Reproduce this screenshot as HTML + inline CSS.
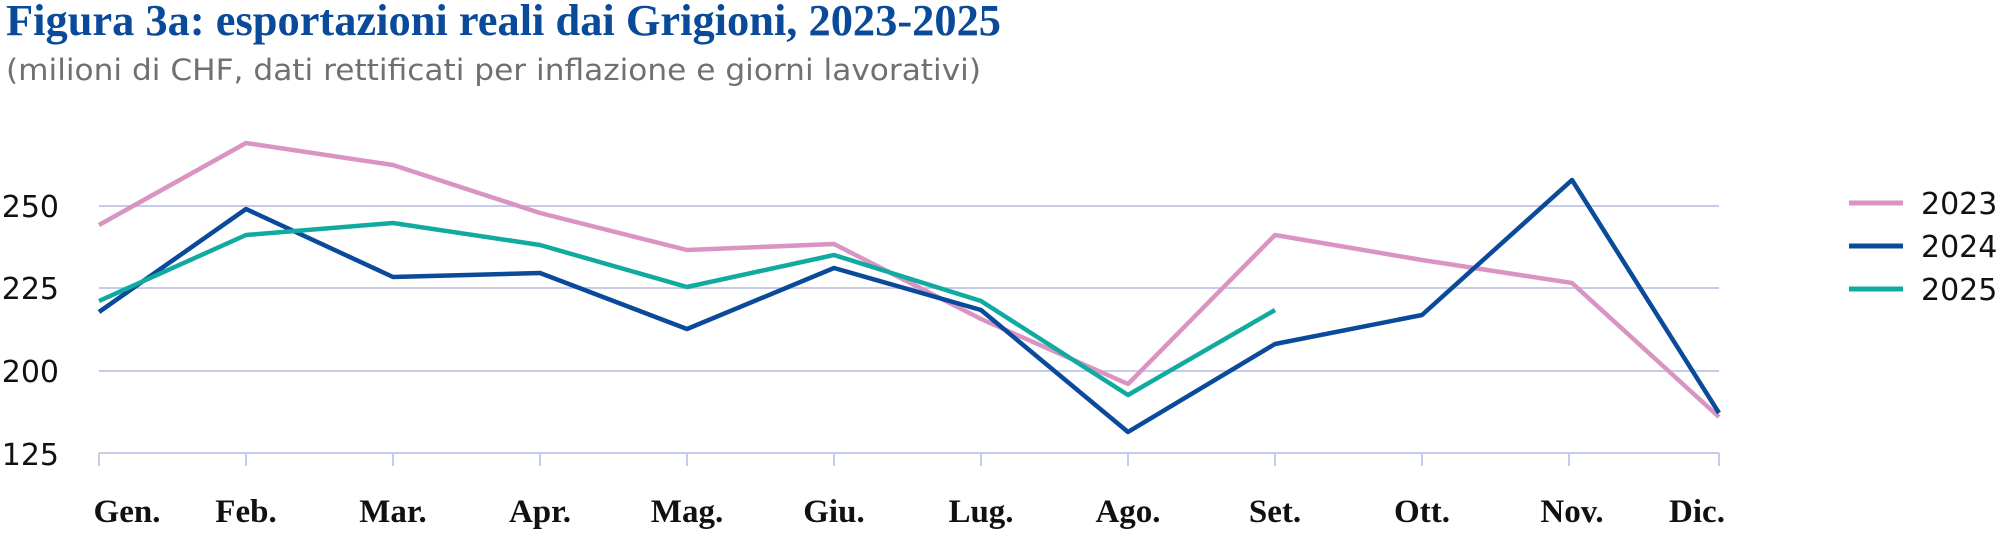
<!DOCTYPE html>
<html><head><meta charset="utf-8"><style>body{margin:0;background:#fff}svg{display:block}</style></head><body>
<svg width="2000" height="533" xmlns="http://www.w3.org/2000/svg">
<text x="6" y="35" font-family="Liberation Serif, serif" font-weight="bold" font-size="44" fill="#0a4a9a" textLength="995" lengthAdjust="spacingAndGlyphs">Figura 3a: esportazioni reali dai Grigioni, 2023-2025</text>
<text x="6" y="80" font-family="DejaVu Sans, sans-serif" font-size="29" fill="#707070" textLength="975" lengthAdjust="spacingAndGlyphs">(milioni di CHF, dati rettificati per inflazione e giorni lavorativi)</text>
<g stroke="#c5cbe8" stroke-width="2" fill="none">
<line x1="99" y1="206" x2="1719" y2="206"/><line x1="99" y1="288" x2="1719" y2="288"/><line x1="99" y1="371" x2="1719" y2="371"/><line x1="99" y1="453" x2="1719" y2="453"/>
<path d="M99 453v13M246 453v13M393 453v13M540 453v13M687 453v13M834 453v13M981 453v13M1128 453v13M1275 453v13M1422 453v13M1569 453v13M1719 453v13"/>
</g>
<g font-family="DejaVu Sans, sans-serif" font-size="30" fill="#111" text-anchor="end">
<text x="59" y="217">250</text><text x="59" y="299">225</text><text x="59" y="382">200</text><text x="59" y="465">125</text>
</g>
<g font-family="Liberation Serif, serif" font-weight="bold" font-size="33" fill="#111" text-anchor="middle">
<text x="127" y="522">Gen.</text><text x="246" y="522">Feb.</text><text x="393" y="522">Mar.</text><text x="540" y="522">Apr.</text><text x="687" y="522">Mag.</text><text x="834" y="522">Giu.</text><text x="981" y="522">Lug.</text><text x="1128" y="522">Ago.</text><text x="1275" y="522">Set.</text><text x="1422" y="522">Ott.</text><text x="1572" y="522">Nov.</text><text x="1697" y="522">Dic.</text>
</g>
<g fill="none" stroke-width="4.5" stroke-linejoin="round">
<polyline stroke="#d994c2" points="99,225 246,143 393,165 540,213 687,250 834,244 981,319 1128,384 1275,235 1422,260 1572,283 1719,417"/>
<polyline stroke="#0a4a9a" points="99,312 246,209 393,277 540,273 687,329 834,268 981,310 1128,432 1275,344 1422,315 1572,180 1719,413"/>
<polyline stroke="#10aaa0" points="99,301 246,235 393,223 540,245 687,287 834,255 981,301 1128,395 1275,310"/>
</g>
<g stroke-width="5"><line x1="1849" y1="203" x2="1903" y2="203" stroke="#d994c2"/><line x1="1849" y1="246" x2="1903" y2="246" stroke="#0a4a9a"/><line x1="1849" y1="289" x2="1903" y2="289" stroke="#10aaa0"/></g>
<g font-family="DejaVu Sans, sans-serif" font-size="30" fill="#111">
<text x="1921" y="214">2023</text><text x="1921" y="257">2024</text><text x="1921" y="300">2025</text>
</g>
</svg>
</body></html>
